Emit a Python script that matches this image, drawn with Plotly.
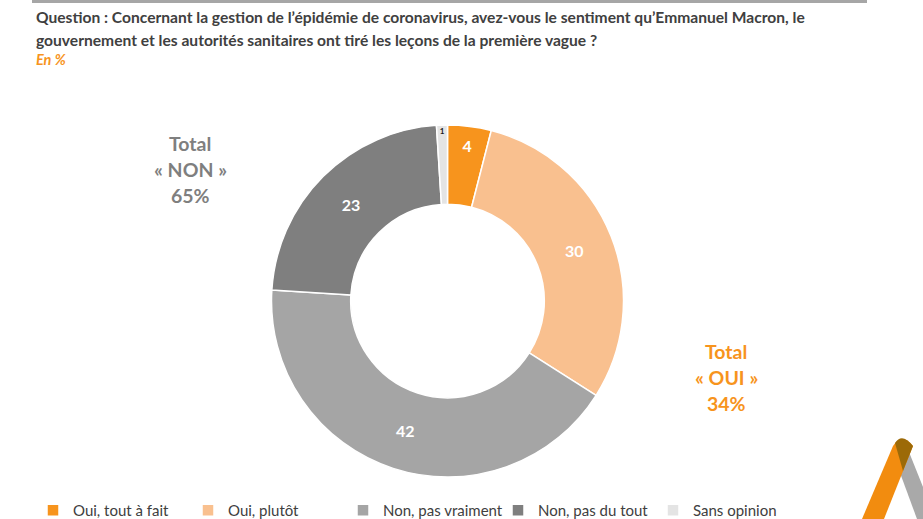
import plotly.graph_objects as go

W, H = 923, 519

labels = ["Oui, tout à fait", "Oui, plutôt", "Non, pas vraiment", "Non, pas du tout", "Sans opinion"]
values = [4, 30, 42, 23, 1]
colors = ["#F7941D", "#F9C08F", "#A5A5A5", "#7F7F7F", "#E4E4E4"]
text_colors = ["white", "white", "white", "white", "#1a1a1a"]
text_sizes = [16, 16, 16, 16, 11]

title_line1 = "Question : Concernant la gestion de l’épidémie de coronavirus, avez-vous le sentiment qu’Emmanuel Macron, le"
title_line2 = "gouvernement et les autorités sanitaires ont tiré les leçons de la première vague ?"
subtitle = "En %"
total_non = ["Total", "« NON »", "65%"]
total_oui = ["Total", "« OUI »", "34%"]

FONT = "Lato"

# donut geometry (pixels)
cx, cy, r = 447.5, 301, 176

fig = go.Figure()
fig.add_trace(go.Pie(
    labels=labels,
    values=values,
    sort=False,
    direction="clockwise",
    rotation=0,
    hole=0.55,
    marker=dict(colors=colors, line=dict(color="white", width=1.5)),
    texttemplate="<b>%{value}</b>",
    textposition="inside",
    insidetextorientation="horizontal",
    textfont=dict(family=FONT, color=text_colors, size=text_sizes),
    domain=dict(x=[(cx - r) / W, (cx + r) / W], y=[1 - (cy + r) / H, 1 - (cy - r) / H]),
    hoverinfo="label+value",
))

ann = []
ann.append(dict(text="<b>" + title_line1 + "</b>", x=34 / W, y=1 - 17 / H, xref="paper", yref="paper",
                xanchor="left", yanchor="middle", showarrow=False,
                font=dict(family=FONT, size=15.6, color="#404040")))
ann.append(dict(text="<b>" + title_line2 + "</b>", x=34 / W, y=1 - 40 / H, xref="paper", yref="paper",
                xanchor="left", yanchor="middle", showarrow=False,
                font=dict(family=FONT, size=15.6, color="#404040")))
ann.append(dict(text="<b><i>" + subtitle + "</i></b>", x=34 / W, y=1 - 59 / H, xref="paper", yref="paper",
                xanchor="left", yanchor="middle", showarrow=False,
                font=dict(family=FONT, size=14.5, color="#F7941D")))

for i, t in enumerate(total_non):
    ann.append(dict(text="<b>" + t + "</b>", x=190 / W, y=1 - (143 + 26 * i) / H, xref="paper", yref="paper",
                    xanchor="center", yanchor="middle", showarrow=False,
                    font=dict(family=FONT, size=19.5, color="#7F7F7F")))
for i, t in enumerate(total_oui):
    ann.append(dict(text="<b>" + t + "</b>", x=726 / W, y=1 - (351 + 26 * i) / H, xref="paper", yref="paper",
                    xanchor="center", yanchor="middle", showarrow=False,
                    font=dict(family=FONT, size=19.5, color="#F7941D")))

shapes = [
    dict(type="rect", xref="paper", yref="paper", x0=32 / W, x1=867 / W, y0=1 - 3 / H, y1=1,
         fillcolor="#A6A6A6", line=dict(width=0), layer="above"),
    # decorative logo, bottom-right
    dict(type="path", xref="paper", yref="paper",
         path=" ".join([
             "M %f,%f" % (907 / W, 1 - 447 / H),
             "L %f,%f" % (923 / W, 1 - 487 / H),
             "L %f,%f" % (923 / W, 1 - 519 / H),
             "L %f,%f" % (917 / W, 1 - 519 / H),
             "L %f,%f" % (896 / W, 1 - 462 / H),
             "Z"]),
         fillcolor="#A9A9A9", line=dict(width=0)),
    dict(type="path", xref="paper", yref="paper",
         path=" ".join([
             "M %f,%f" % (862 / W, 1 - 519 / H),
             "L %f,%f" % (893 / W, 1 - 446 / H),
             "Q %f,%f %f,%f" % (902 / W, 1 - 432 / H, 913 / W, 1 - 446 / H),
             "L %f,%f" % (884 / W, 1 - 519 / H),
             "Z"]),
         fillcolor="#F28C0F", line=dict(width=0)),
    dict(type="path", xref="paper", yref="paper",
         path=" ".join([
             "M %f,%f" % (895 / W, 1 - 443 / H),
             "Q %f,%f %f,%f" % (902 / W, 1 - 432 / H, 913 / W, 1 - 446 / H),
             "L %f,%f" % (903 / W, 1 - 471 / H),
             "Z"]),
         fillcolor="#9C6A08", line=dict(width=0)),
]

fig.update_layout(
    width=W, height=H,
    margin=dict(l=0, r=0, t=0, b=0, autoexpand=False),
    paper_bgcolor="white", plot_bgcolor="white",
    font=dict(family=FONT, color="#404040"),
    showlegend=True,
    legend=dict(orientation="h", x=33 / W, y=1 - 494 / H, xanchor="left", yanchor="top",
                font=dict(family=FONT, size=15, color="#404040"),
                entrywidth=110, entrywidthmode="pixels", traceorder="normal",
                bgcolor="rgba(0,0,0,0)"),
    annotations=ann,
    shapes=shapes,
)

fig.write_html(
    "out.html",
    config={"displayModeBar": False},
    post_script="document.body.style.margin='0';document.body.style.overflow='hidden';",
)
